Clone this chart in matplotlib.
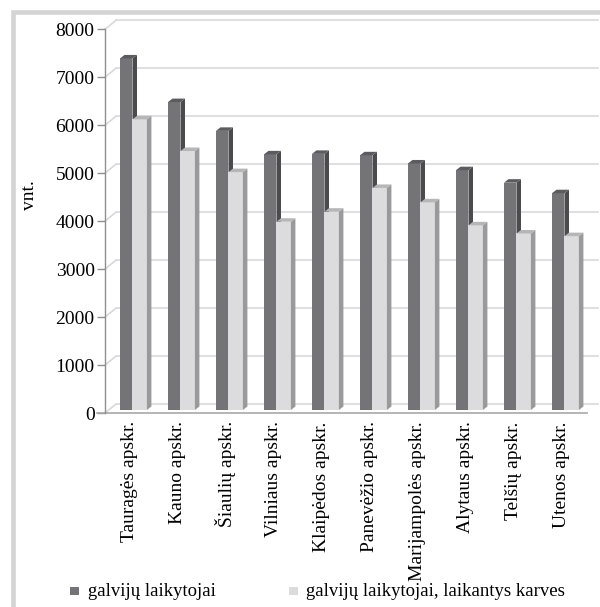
import matplotlib
matplotlib.use('Agg')
import matplotlib.pyplot as plt
import matplotlib.transforms as mtransforms
from matplotlib.patches import Polygon, Rectangle
import numpy as np

# duomenys (nuskaityta iš paveikslo)
apskritys = ['Tauragės apskr.', 'Kauno apskr.', 'Šiaulių apskr.', 'Vilniaus apskr.',
             'Klaipėdos apskr.', 'Panevėžio apskr.', 'Marijampolės apskr.',
             'Alytaus apskr.', 'Telšių apskr.', 'Utenos apskr.']
laikytojai = [7330, 6420, 5820, 5330, 5340, 5310, 5140, 5000, 4740, 4520]
su_karvemis = [6060, 5400, 4960, 3925, 4135, 4630, 4330, 3850, 3680, 3625]
series_names = ['galvijų laikytojai', 'galvijų laikytojai, laikantys karves']
y_ticks = [0, 1000, 2000, 3000, 4000, 5000, 6000, 7000, 8000]

plt.rcParams['font.family'] = ['Liberation Serif', 'DejaVu Serif']
FS = 14
FS_LEG = 13.5

fig = plt.figure(figsize=(6.0, 6.07), dpi=100)
W, H = 600, 607

# išorinis rėmelis
fig.patches.append(Rectangle((13 / W, -0.1), 1.2, 1.1 - 11.5 / H + 0.0,
                             transform=fig.transFigure, fill=False,
                             ec='#d4d4d4', lw=3.3, zorder=0))

ax = fig.add_axes([105 / W, 1 - 413 / H, 480 / W, (413 - 29.3) / H])
ax.set_xlim(0, 10)
ax.set_ylim(0, 8000)
for s in ['top', 'right', 'bottom']:
    ax.spines[s].set_visible(False)
ax.spines['left'].set_color('#8f8f8f')
ax.spines['left'].set_linewidth(1.0)

# 3D sienelė (galinės tinklelio linijos)
wall_dx, wall_dy = 0.23, 187.5
grid_c = '#d9d9d9'
for v in y_ticks:
    ax.plot([0, wall_dx], [v, v + wall_dy], color=grid_c, lw=1.2, clip_on=False, zorder=1)
    ax.plot([wall_dx, 10 + wall_dx + 0.04], [v + wall_dy, v + wall_dy],
            color=grid_c, lw=1.2, clip_on=False, zorder=1)
# grindų priekinė linija
ax.plot([-0.17, 10.05], [0, 0], color='#a8a8a8', lw=1.2, clip_on=False, zorder=2)

# stulpeliai su 3D šonais
shift = mtransforms.ScaledTranslation(0, 3 / 100, fig.dpi_scale_trans)
tr = ax.transData + shift
dx, dy = 0.094, 73
x = np.arange(len(apskritys))


def bar3d(left, width, vals, front, side, top):
    ax.bar(left, vals, width=width, align='edge', color=front, lw=0,
           transform=tr, zorder=3)
    for xl, v in zip(left, vals):
        xr = xl + width
        ax.add_patch(Polygon([(xr, 0), (xr + dx, dy), (xr + dx, v + dy), (xr, v)],
                             closed=True, fc=side, lw=0, transform=tr, zorder=3))
        ax.add_patch(Polygon([(xl, v), (xl + dx, v + dy), (xr + dx, v + dy), (xr, v)],
                             closed=True, fc=top, lw=0, transform=tr, zorder=3))


bar3d(x + 0.3125, 0.26, laikytojai, '#737378', '#4b4b4f', '#5c5c60')
bar3d(x + 0.5729, 0.30, su_karvemis, '#dcdcde', '#9a9a9c', '#b6b6b8')

ax.set_yticks(y_ticks)
ax.set_yticklabels([str(v) for v in y_ticks], fontsize=FS)
ax.tick_params(axis='y', length=6, width=1.0, color='#8f8f8f', pad=1.5)
ax.set_xticks(x + 0.5)
ax.set_xticklabels(apskritys, rotation=90, fontsize=FS, va='top', ha='center')
ax.tick_params(axis='x', length=0, pad=6)

fig.text(29 / W, 1 - 195 / H, 'vnt.', rotation=90, fontsize=FS, ha='center', va='center')

# legenda
leg_colors = ['#737378', '#dcdcde']
leg_x = [70, 289]
for name, c, lx in zip(series_names, leg_colors, leg_x):
    fig.patches.append(Rectangle((lx / W, 1 - 595 / H), 8.5 / W, 8.5 / H,
                                 transform=fig.transFigure, fc=c, lw=0))
    fig.text((lx + 17.5) / W, 1 - 591 / H, name, fontsize=FS_LEG, ha='left', va='center')

plt.savefig('out.png', dpi=100)
